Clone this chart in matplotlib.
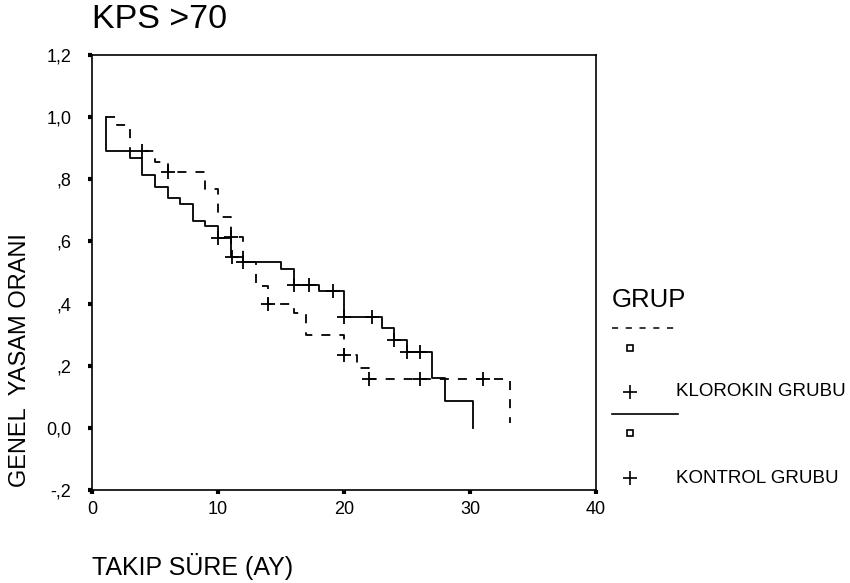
import numpy as np
import matplotlib.pyplot as plt

plt.rcParams['font.family'] = ['Liberation Sans', 'DejaVu Sans']

# KLOROKIN GRUBU (kesikli cizgi)
klor_t = [1.1, 2, 3, 5, 6, 9, 10, 11, 12, 13, 14, 16, 17, 20, 21, 22, 33.2]
klor_s = [1.0, 0.975, 0.89, 0.857, 0.825, 0.77, 0.68, 0.615, 0.534, 0.457, 0.40, 0.37, 0.30, 0.235, 0.193, 0.157, 0.015]
klor_cens_t = [4, 6, 11, 12, 14, 20, 22, 26, 31]
klor_cens_s = [0.89, 0.825, 0.615, 0.534, 0.40, 0.235, 0.157, 0.157, 0.157]

# KONTROL GRUBU (duz cizgi)
kont_t = [1.1, 1.1, 3, 4, 5, 6, 7, 8, 9, 10, 11, 12, 15, 16, 18, 20, 23, 24, 25, 27, 28, 30.2]
kont_s = [1.0, 0.89, 0.87, 0.814, 0.776, 0.74, 0.72, 0.666, 0.65, 0.61, 0.55, 0.535, 0.51, 0.46, 0.44, 0.357, 0.32, 0.283, 0.245, 0.16, 0.085, 0.0]
kont_cens_t = [10, 11.1, 16, 17.2, 19.1, 20, 22.2, 24, 25, 26]
kont_cens_s = [0.61, 0.55, 0.46, 0.46, 0.44, 0.357, 0.357, 0.283, 0.245, 0.245]

yticks = [-0.2, 0.0, 0.2, 0.4, 0.6, 0.8, 1.0, 1.2]
ytick_labels = ['-,2', '0,0', ',2', ',4', ',6', ',8', '1,0', '1,2']
xticks = [0, 10, 20, 30, 40]

fig = plt.figure(figsize=(8.5, 5.83), dpi=100)
ax = fig.add_axes([0.1082, 0.1595, 0.593, 0.7462])

ax.plot(klor_t, klor_s, drawstyle='steps-post', color='black', lw=1.3, dashes=(5, 5))
ax.plot(klor_cens_t, klor_cens_s, '+', color='black', ms=10, mew=1.3)
ax.plot(kont_t, kont_s, drawstyle='steps-post', color='black', lw=1.3)
ax.plot(kont_cens_t, kont_cens_s, '+', color='black', ms=10, mew=1.3)

ax.set_xlim(0, 40)
ax.set_ylim(-0.2, 1.2)
ax.set_xticks(xticks)
ax.set_yticks(yticks)
ax.set_yticklabels(ytick_labels)
ax.tick_params(direction='out', length=3, width=3, labelsize=13)
ax.tick_params(axis='y', pad=12)
ax.tick_params(axis='x', pad=5)
for sp in ax.spines.values():
    sp.set_linewidth(1.2)

fig.text(0.1082, 0.966, 'KPS >70', fontsize=24.5, ha='left', va='center')
fig.text(0.1082, 0.029, 'TAKIP SÜRE (AY)', fontsize=18, ha='left', va='center')
fig.text(0.024, 0.383, 'GENEL  YASAM ORANI', fontsize=17, rotation=90, ha='center', va='center')

# legend
fig.text(0.72, 0.486, 'GRUP', fontsize=18.5, ha='left', va='center')
fig.add_artist(plt.Line2D([0.72, 0.798], [0.437, 0.437], color='black', lw=1.1, dashes=(4, 5)))
fig.add_artist(plt.Line2D([0.741], [0.403], marker='s', ms=5, mfc='white', mec='black', mew=1.2))
fig.add_artist(plt.Line2D([0.741], [0.328], marker='+', ms=10, color='black', mew=1.2))
fig.text(0.795, 0.328, 'KLOROKIN GRUBU', fontsize=13.5, ha='left', va='center')
fig.add_artist(plt.Line2D([0.72, 0.798], [0.29, 0.29], color='black', lw=1.2))
fig.add_artist(plt.Line2D([0.741], [0.257], marker='s', ms=5, mfc='white', mec='black', mew=1.2))
fig.add_artist(plt.Line2D([0.741], [0.18], marker='+', ms=10, color='black', mew=1.2))
fig.text(0.795, 0.18, 'KONTROL GRUBU', fontsize=13.5, ha='left', va='center')

fig.savefig('out.png', dpi=100)
